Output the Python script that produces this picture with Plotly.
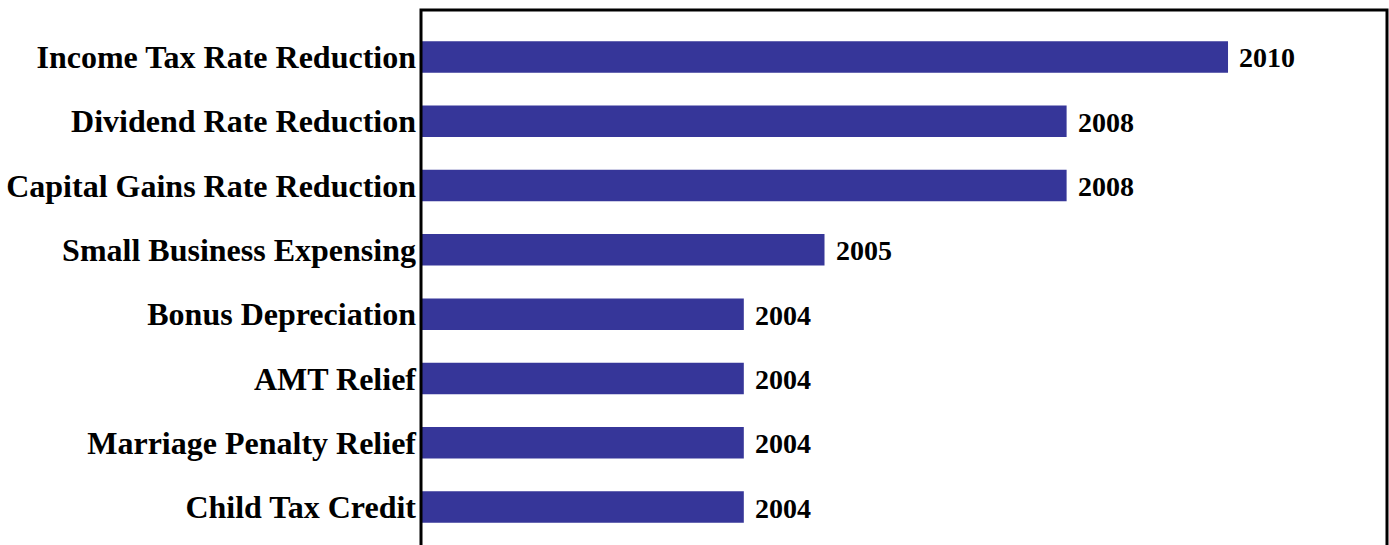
import plotly.graph_objects as go

categories = [
    "Income Tax Rate Reduction",
    "Dividend Rate Reduction",
    "Capital Gains Rate Reduction",
    "Small Business Expensing",
    "Bonus Depreciation",
    "AMT Relief",
    "Marriage Penalty Relief",
    "Child Tax Credit",
]
expiry_years = [2010, 2008, 2008, 2005, 2004, 2004, 2004, 2004]
base_year = 2000
axis_max = 2011.97

bar_color = "rgb(54,54,153)"

fig = go.Figure()
fig.add_trace(go.Bar(
    y=categories,
    x=[y - base_year for y in expiry_years],
    base=base_year,
    orientation="h",
    width=0.49,
    marker=dict(color=bar_color, line=dict(width=0)),
    hoverinfo="skip",
))

for cat, yr in zip(categories, expiry_years):
    fig.add_annotation(
        x=yr, y=cat, xref="x", yref="y",
        text="<b>%d</b>" % yr,
        showarrow=False, xanchor="left", yanchor="middle",
        xshift=9, yshift=-1,
        font=dict(family="Liberation Serif", size=28, color="black"),
    )

# frame: top, left, right
fig.add_shape(type="path", xref="paper", yref="paper",
              path="M 0 0 L 0 1 L 1 1 L 1 0",
              line=dict(color="black", width=3))

fig.update_layout(
    width=1389, height=545,
    margin=dict(l=421, r=2, t=10, b=0, pad=0),
    paper_bgcolor="white", plot_bgcolor="white",
    showlegend=False,
    bargap=0.5,
    xaxis=dict(range=[base_year, axis_max], showgrid=False, zeroline=False,
               showticklabels=False, ticks="", showline=False),
    yaxis=dict(categoryorder="array", categoryarray=categories,
               range=[7.59, -0.73], showgrid=False, zeroline=False,
               showline=False, ticks="",
               tickfont=dict(family="Liberation Serif", size=32, color="black"),
               ticklabelstandoff=4),
)
fig.update_yaxes(ticktext=["<b>%s</b>" % c for c in categories], tickvals=categories)

fig.write_html("out.html")
